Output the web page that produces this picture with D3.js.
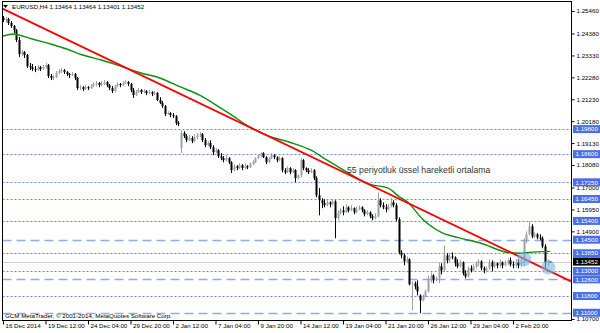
<html>
 <head>
  <title>EURUSD H4</title>
  <script src="https://d3js.org/d3.v7.min.js"></script>
  <style>
   body{margin:0;background:#fff}
   text{font-family:"Liberation Sans",Arial,sans-serif}
  </style>
 </head>
 <body>
  <svg></svg>
  <script>
   var svgWidth=600,svgHeight=333;

   // H4 candles, oldest first
   var opens=[1.2513,1.2503,1.2508,1.2489,1.2474,1.2455,1.2407,1.2340,1.2349,1.2335,
    1.2282,1.2277,1.2268,1.2263,1.2277,1.2268,1.2277,1.2287,1.2234,1.2225,
    1.2229,1.2249,1.2258,1.2263,1.2253,1.2244,1.2239,1.2244,1.2225,1.2177,
    1.2181,1.2172,1.2181,1.2177,1.2186,1.2196,1.2201,1.2191,1.2196,1.2205,
    1.2191,1.2177,1.2162,1.2186,1.2196,1.2191,1.2201,1.2205,1.2196,1.2167,
    1.2143,1.2157,1.2167,1.2157,1.2162,1.2153,1.2157,1.2148,1.2153,1.2119,
    1.2105,1.2090,1.2052,1.2057,1.2047,1.2042,1.2009,1.1889,1.1961,1.1946,
    1.1927,1.1937,1.1922,1.1941,1.1951,1.1956,1.1927,1.1903,1.1913,1.1893,
    1.1869,1.1879,1.1850,1.1841,1.1831,1.1841,1.1821,1.1783,1.1802,1.1793,
    1.1807,1.1793,1.1802,1.1797,1.1812,1.1821,1.1841,1.1855,1.1865,1.1845,
    1.1821,1.1841,1.1855,1.1845,1.1831,1.1841,1.1783,1.1773,1.1793,1.1773,
    1.1783,1.1745,1.1759,1.1831,1.1793,1.1783,1.1773,1.1783,1.1745,1.1663,
    1.1639,1.1625,1.1615,1.1629,1.1620,1.1634,1.1553,1.1577,1.1591,1.1581,
    1.1605,1.1591,1.1601,1.1581,1.1596,1.1605,1.1591,1.1572,1.1581,1.1562,
    1.1553,1.1562,1.1639,1.1615,1.1605,1.1596,1.1610,1.1629,1.1615,1.1548,
    1.1389,1.1375,1.1346,1.1356,1.1236,1.1241,1.1226,1.1183,1.1159,1.1178,
    1.1202,1.1265,1.1279,1.1255,1.1265,1.1322,1.1303,1.1375,1.1351,1.1370,
    1.1365,1.1337,1.1322,1.1341,1.1289,1.1274,1.1313,1.1303,1.1322,1.1337,
    1.1346,1.1313,1.1303,1.1313,1.1341,1.1322,1.1337,1.1327,1.1341,1.1327,
    1.1337,1.1351,1.1332,1.1327,1.1341,1.1327,1.1341,1.1447,1.1476,1.1514,
    1.1466,1.1476,1.1461,1.1457,1.1418,1.1341,1.13464];
   var highs=[1.2522,1.2517,1.2513,1.2498,1.2479,1.2460,1.2421,1.2359,1.2354,1.2340,
    1.2297,1.2292,1.2282,1.2287,1.2282,1.2287,1.2297,1.2292,1.2244,1.2239,
    1.2258,1.2268,1.2273,1.2268,1.2258,1.2249,1.2253,1.2249,1.2229,1.2191,
    1.2186,1.2191,1.2186,1.2196,1.2205,1.2210,1.2205,1.2210,1.2215,1.2210,
    1.2196,1.2186,1.2191,1.2205,1.2201,1.2210,1.2215,1.2210,1.2201,1.2177,
    1.2167,1.2177,1.2172,1.2172,1.2167,1.2167,1.2162,1.2162,1.2157,1.2133,
    1.2114,1.2095,1.2066,1.2061,1.2057,1.2047,1.2018,1.1975,1.1970,1.1956,
    1.1951,1.1946,1.1956,1.1961,1.1965,1.1961,1.1937,1.1922,1.1927,1.1903,
    1.1889,1.1884,1.1865,1.1850,1.1855,1.1845,1.1826,1.1812,1.1807,1.1817,
    1.1812,1.1817,1.1807,1.1821,1.1831,1.1845,1.1860,1.1869,1.1869,1.1850,
    1.1845,1.1865,1.1860,1.1850,1.1850,1.1845,1.1793,1.1802,1.1797,1.1793,
    1.1788,1.1764,1.1841,1.1836,1.1797,1.1793,1.1793,1.1788,1.1754,1.1697,
    1.1649,1.1644,1.1639,1.1634,1.1644,1.1639,1.1591,1.1601,1.1610,1.1620,
    1.1610,1.1615,1.1605,1.1610,1.1615,1.1610,1.1596,1.1591,1.1586,1.1572,
    1.1577,1.1677,1.1649,1.1629,1.1620,1.1620,1.1649,1.1639,1.1625,1.1557,
    1.1399,1.1384,1.1370,1.1361,1.1250,1.1250,1.1255,1.1188,1.1188,1.1212,
    1.1279,1.1293,1.1284,1.1274,1.1341,1.1337,1.1423,1.1385,1.1389,1.1389,
    1.1370,1.1356,1.1351,1.1346,1.1303,1.1322,1.1327,1.1332,1.1346,1.1356,
    1.1351,1.1322,1.1322,1.1356,1.1351,1.1346,1.1341,1.1356,1.1346,1.1351,
    1.1361,1.1365,1.1346,1.1356,1.1356,1.1361,1.1457,1.1490,1.1538,1.1524,
    1.1485,1.1481,1.1476,1.1466,1.1428,1.1356,1.13464];
   var lows=[1.2493,1.2489,1.2479,1.2465,1.2441,1.2397,1.2325,1.2330,1.2321,1.2273,
    1.2263,1.2258,1.2253,1.2258,1.2258,1.2263,1.2268,1.2225,1.2215,1.2215,
    1.2225,1.2244,1.2249,1.2244,1.2234,1.2225,1.2234,1.2215,1.2167,1.2167,
    1.2162,1.2167,1.2167,1.2172,1.2181,1.2186,1.2181,1.2186,1.2191,1.2181,
    1.2167,1.2153,1.2157,1.2181,1.2181,1.2186,1.2196,1.2186,1.2157,1.2129,
    1.2138,1.2153,1.2148,1.2153,1.2143,1.2148,1.2138,1.2143,1.2114,1.2100,
    1.2081,1.2042,1.2047,1.2037,1.2033,1.1999,1.1994,1.1865,1.1937,1.1917,
    1.1922,1.1913,1.1917,1.1932,1.1941,1.1917,1.1893,1.1898,1.1884,1.1855,
    1.1865,1.1841,1.1831,1.1821,1.1826,1.1812,1.1769,1.1778,1.1783,1.1788,
    1.1783,1.1788,1.1788,1.1793,1.1807,1.1817,1.1836,1.1845,1.1841,1.1812,
    1.1817,1.1836,1.1836,1.1821,1.1826,1.1773,1.1764,1.1769,1.1764,1.1769,
    1.1725,1.1740,1.1749,1.1783,1.1773,1.1764,1.1769,1.1735,1.1653,1.1567,
    1.1601,1.1605,1.1610,1.1605,1.1615,1.1457,1.1543,1.1572,1.1567,1.1577,
    1.1581,1.1586,1.1572,1.1577,1.1591,1.1581,1.1562,1.1567,1.1553,1.1543,
    1.1548,1.1557,1.1605,1.1596,1.1581,1.1591,1.1605,1.1605,1.1538,1.1380,
    1.1361,1.1327,1.1337,1.1231,1.1111,1.1212,1.1183,1.1097,1.1154,1.1173,
    1.1197,1.1245,1.1241,1.1250,1.1241,1.1284,1.1298,1.1337,1.1341,1.1356,
    1.1322,1.1313,1.1317,1.1279,1.1265,1.1269,1.1293,1.1298,1.1313,1.1322,
    1.1303,1.1289,1.1293,1.1303,1.1298,1.1313,1.1313,1.1317,1.1313,1.1322,
    1.1327,1.1322,1.1313,1.1317,1.1313,1.1317,1.1322,1.1433,1.1471,1.1457,
    1.1457,1.1452,1.1447,1.1409,1.1313,1.1322,1.13401];
   var closes=[1.2503,1.2508,1.2489,1.2474,1.2455,1.2407,1.2340,1.2349,1.2335,1.2282,
    1.2277,1.2268,1.2263,1.2277,1.2268,1.2277,1.2287,1.2234,1.2225,1.2229,
    1.2249,1.2258,1.2263,1.2253,1.2244,1.2239,1.2244,1.2225,1.2177,1.2181,
    1.2172,1.2181,1.2177,1.2186,1.2196,1.2201,1.2191,1.2196,1.2205,1.2191,
    1.2177,1.2162,1.2186,1.2196,1.2191,1.2201,1.2205,1.2196,1.2167,1.2143,
    1.2157,1.2167,1.2157,1.2162,1.2153,1.2157,1.2148,1.2153,1.2119,1.2105,
    1.2090,1.2052,1.2057,1.2047,1.2042,1.2009,1.2004,1.1961,1.1946,1.1927,
    1.1937,1.1922,1.1941,1.1951,1.1956,1.1927,1.1903,1.1913,1.1893,1.1869,
    1.1879,1.1850,1.1841,1.1831,1.1841,1.1821,1.1783,1.1802,1.1793,1.1807,
    1.1793,1.1802,1.1797,1.1812,1.1821,1.1841,1.1855,1.1865,1.1845,1.1821,
    1.1841,1.1855,1.1845,1.1831,1.1841,1.1783,1.1773,1.1793,1.1773,1.1783,
    1.1745,1.1759,1.1831,1.1793,1.1783,1.1773,1.1783,1.1745,1.1663,1.1639,
    1.1625,1.1615,1.1629,1.1620,1.1634,1.1553,1.1577,1.1591,1.1581,1.1605,
    1.1591,1.1601,1.1581,1.1596,1.1605,1.1591,1.1572,1.1581,1.1562,1.1553,
    1.1562,1.1639,1.1615,1.1605,1.1596,1.1610,1.1629,1.1615,1.1548,1.1389,
    1.1375,1.1346,1.1356,1.1236,1.1241,1.1226,1.1202,1.1159,1.1178,1.1202,
    1.1265,1.1279,1.1255,1.1265,1.1322,1.1303,1.1375,1.1351,1.1370,1.1365,
    1.1337,1.1322,1.1341,1.1289,1.1274,1.1313,1.1303,1.1322,1.1337,1.1346,
    1.1313,1.1303,1.1313,1.1341,1.1322,1.1337,1.1327,1.1341,1.1327,1.1337,
    1.1351,1.1332,1.1327,1.1341,1.1327,1.1341,1.1447,1.1476,1.1514,1.1466,
    1.1476,1.1461,1.1457,1.1418,1.1341,1.1351,1.13452];

   // 55-period EMA at some bars
   var emaBars  =[0,4,6,11,18,24,30,37,43,52,59,67,74,82,85,93,99,108,116,122,127,138,145,149,152,158,165,171,180,190,195,198,206];
   var emaValues=[1.2426,1.2436,1.2431,1.2412,1.2388,1.2364,1.2335,1.2311,1.2287,1.2249,1.2225,1.2181,1.2143,1.2081,1.2057,
                  1.1989,1.1951,1.1917,1.1879,1.1831,1.1793,1.1716,1.1697,1.1658,1.1634,1.1548,1.1485,1.1461,1.1433,1.1389,1.1385,1.1389,1.1394];

   // trend line: two anchors (bar, price)
   var trendBars  =[0,200];
   var trendPrices=[1.2556,1.1335];

   var dottedLevels=[1.198,1.186,1.1725,1.1645,1.154,1.1385,1.13,1.118];
   var dashedLevels=[1.145,1.126,1.11];
   var lastPrice=1.13452;

   // visible price scale labels (the rest are covered by level boxes)
   var priceTicks=[1.2546,1.2438,1.2333,1.2228,1.2123,1.2018,1.1913,1.1808,1.17,1.1595,1.149,1.107];
   var timeBars  =[0,16,32,48,64,80,96,112,128,144,160,176,192];
   var timeLabels=["16 Dec 2014","19 Dec 12:00","24 Dec 04:00","29 Dec 20:00","2 Jan 12:00","7 Jan 04:00","9 Jan 20:00",
                   "14 Jan 12:00","19 Jan 04:00","21 Jan 20:00","26 Jan 12:00","29 Jan 04:00","2 Feb 20:00"];

   // marked spots (bar, price)
   var markBars  =[196.2,205.3];
   var markPrices=[1.1356,1.1317];

   var pLeft=2.5,pRight=571.5,pTop=1.5,pBottom=320.5;
   var fmt=d3.format(".5f");

   var x=d3.scaleLinear().domain([0,192]).range([3,513]);
   var y=d3.scaleLinear().domain([1.2546,1.107]).range([11,319]);

   var svg=d3.select("svg").attr("width",svgWidth).attr("height",svgHeight);

   svg.append("clipPath").attr("id","plot").append("rect")
      .attr("x",pLeft).attr("y",pTop).attr("width",pRight-pLeft).attr("height",pBottom-pTop);
   var plot=svg.append("g").attr("clip-path","url(#plot)");

   function py(d){return Math.round(y(d))+0.5}

   // level lines
   plot.selectAll("line.dot").data(dottedLevels).enter().append("line")
      .attr("x1",pLeft).attr("x2",pRight).attr("y1",py).attr("y2",py)
      .attr("stroke","#6a84e6").attr("stroke-dasharray","2,2");
   plot.selectAll("line.dash").data(dashedLevels).enter().append("line")
      .attr("x1",pLeft).attr("x2",pRight).attr("y1",py).attr("y2",py)
      .attr("stroke","#8eaaf0").attr("stroke-width",1.4).attr("stroke-dasharray","9,5");
   plot.append("line").attr("x1",pLeft).attr("x2",pRight)
      .attr("y1",py(lastPrice)).attr("y2",py(lastPrice))
      .attr("stroke","#cfcfcf");

   // candles
   var bars=closes.map(function(c,i){return {i:i,o:opens[i],h:highs[i],l:lows[i],c:c}});
   var cg=plot.selectAll("g.c").data(bars).enter().append("g");
   cg.append("line")
     .attr("x1",function(d){return Math.round(x(d.i))+0.5}).attr("x2",function(d){return Math.round(x(d.i))+0.5})
     .attr("y1",function(d){return y(d.h)}).attr("y2",function(d){return y(d.l)})
     .attr("stroke",function(d){return d.c>=d.o?"#a0a0a0":"#000"});
   cg.append("rect")
     .attr("x",function(d){return Math.round(x(d.i))-0.5}).attr("width",2)
     .attr("y",function(d){return y(Math.max(d.o,d.c))})
     .attr("height",function(d){return Math.max(1,Math.abs(y(d.o)-y(d.c)))})
     .attr("fill",function(d){return d.c>=d.o?"#a0a0a0":"#000"});

   // EMA
   var ema=emaBars.map(function(b,i){return [x(b),y(emaValues[i])]});
   plot.append("path").attr("d",d3.line().curve(d3.curveMonotoneX)(ema))
      .attr("fill","none").attr("stroke","#0f8f0f").attr("stroke-width",1.4);

   // trend line, extended over the plot
   var tx0=x(trendBars[0]),ty0=y(trendPrices[0]),tx1=x(trendBars[1]),ty1=y(trendPrices[1]);
   var slope=(ty1-ty0)/(tx1-tx0);
   plot.append("line").attr("x1",pLeft).attr("y1",ty0+(pLeft-tx0)*slope)
      .attr("x2",pRight).attr("y2",ty0+(pRight-tx0)*slope)
      .attr("stroke","#ff0000").attr("stroke-width",1.8);

   plot.selectAll("circle").data(markBars).enter().append("circle")
      .attr("cx",function(d){return x(d)}).attr("cy",function(d,i){return y(markPrices[i])}).attr("r",7)
      .attr("fill","rgba(110,185,235,0.6)");

   // frame
   svg.append("rect").attr("x",pLeft).attr("y",pTop).attr("width",pRight-pLeft).attr("height",pBottom-pTop)
      .attr("fill","none").attr("stroke","#000");

   // price axis
   var ya=svg.append("g").attr("transform","translate("+pRight+",0)")
      .call(d3.axisRight(y).tickValues(priceTicks).tickSize(3).tickPadding(2).tickFormat(fmt));
   ya.select(".domain").remove();
   ya.selectAll("text").attr("font-size","6.2px").attr("font-family","Liberation Sans").attr("fill","#000");

   var boxes=svg.selectAll("g.box").data(dottedLevels.concat(dashedLevels)).enter().append("g");
   boxes.append("rect").attr("x",pRight+1.5).attr("y",function(d){return y(d)-4}).attr("width",27).attr("height",8).attr("fill","#4a6ee6");
   boxes.append("text").attr("x",pRight+4).attr("y",function(d){return y(d)+2.2}).attr("font-size","6.2px").attr("fill","#fff").text(fmt);
   svg.append("rect").attr("x",pRight+1.5).attr("y",y(lastPrice)-4).attr("width",27).attr("height",8).attr("fill","#000");
   svg.append("text").attr("x",pRight+4).attr("y",y(lastPrice)+2.2).attr("font-size","6.2px").attr("fill","#fff").text(fmt(lastPrice));

   // time axis
   var xa=svg.append("g").attr("transform","translate(0,"+pBottom+")")
      .call(d3.axisBottom(x).tickValues(timeBars).tickSize(4).tickFormat(function(d,i){return timeLabels[i]}));
   xa.select(".domain").remove();
   xa.selectAll("text").attr("text-anchor","start").attr("dx","2px").attr("dy","0.35em").attr("y",5.5)
     .attr("font-size","6.2px").attr("font-family","'Liberation Sans Narrow','Liberation Sans'").attr("fill","#000");

   // texts
   svg.append("path").attr("d","M3,5L8,5L5.5,8Z").attr("fill","#000");
   svg.append("text").attr("x",12).attr("y",9).attr("font-size","6.2px").attr("fill","#000")
      .text("EURUSD,H4  "+fmt(opens[opens.length-1])+" "+fmt(highs[highs.length-1])+" "+fmt(lows[lows.length-1])+" "+fmt(lastPrice));
   svg.append("text").attr("x",5).attr("y",318).attr("font-size","6.2px").attr("fill","#000")
      .text("GCM MetaTrader, \u00a9 2001-2014, MetaQuotes Software Corp.");
   svg.append("text").attr("x",347).attr("y",172.5).attr("font-size","8.7px").attr("fill","#333")
      .text("55 periyotluk \u00fcssel hareketli ortalama");
  </script>
 </body>
</html>
